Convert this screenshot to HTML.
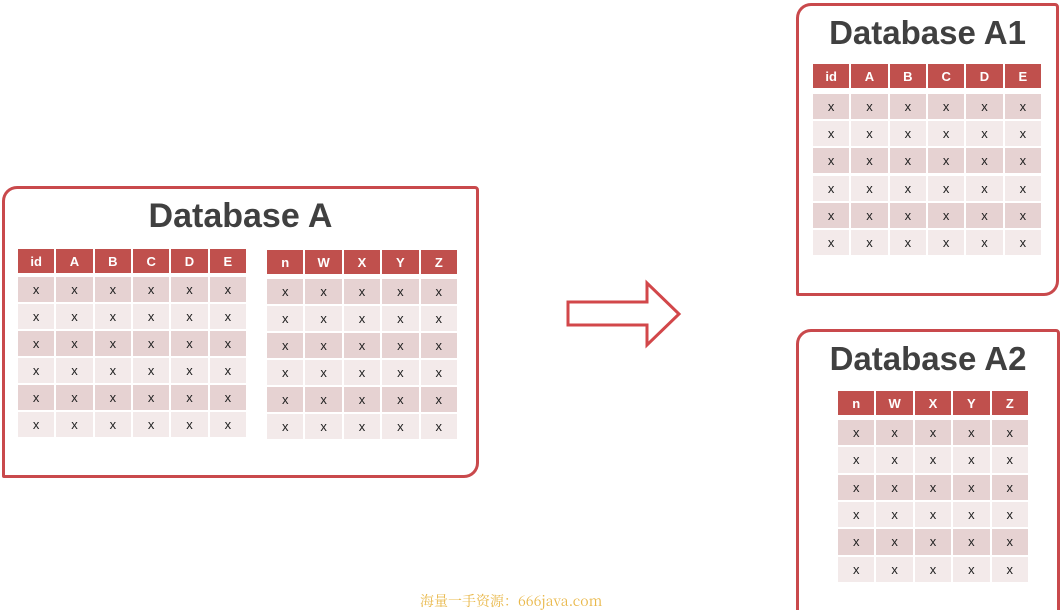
<!DOCTYPE html>
<html><head><meta charset="utf-8">
<style>
html,body{margin:0;padding:0;background:#fff;width:1061px;height:610px;overflow:hidden;position:relative;font-family:"Liberation Sans",sans-serif}
.box{position:absolute;border:3px solid #c9494c;box-sizing:border-box;background:#fff}
.title{position:absolute;font-weight:bold;color:#404040;text-align:center;font-family:"Liberation Sans",sans-serif}
.cell{position:absolute;display:flex;align-items:center;justify-content:center;font-size:13px;color:#222}
.hd{background:#c0504d;color:#fff;font-weight:bold;font-size:13px}
.dk{background:#e6d2d2}
.lt{background:#f3eaea}
.wm{position:absolute;left:420px;top:591px;font-family:"Noto Serif CJK SC","Liberation Serif",serif;font-size:14px;color:#e9b84a}
</style></head>
<body>
<div class="box" style="left:2px;top:186px;width:477px;height:292px;border-radius:15px 4px 15px 2px"></div>
<div class="title" style="left:2px;top:197px;width:477px;font-size:34px">Database A</div>
<div class="box" style="left:796px;top:3px;width:263px;height:293px;border-radius:15px 4px 15px 2px"></div>
<div class="title" style="left:796px;top:14px;width:263px;font-size:33px">Database A1</div>
<div class="box" style="left:796px;top:329px;width:264px;height:300px;border-radius:15px 4px 0 0"></div>
<div class="title" style="left:796px;top:340px;width:264px;font-size:33px">Database A2</div>
<svg style="position:absolute;left:0;top:0" width="1061" height="610">
<polygon points="568,302 647,302 647,283 679,314 647,345 647,325 568,325" fill="#fff" stroke="#d2474a" stroke-width="3"/>
</svg>
<div class="wm">海量一手资源：666java.com</div>
<script>
const cols1 = ['id','A','B','C','D','E'];
const cols2 = ['n','W','X','Y','Z'];
function build(name, x, y, w, hh, cols, r0, rEnd){
  const cw = w/cols.length;
  const rh = (rEnd - r0)/6;
  cols.forEach((c,i)=>{
    const d=document.createElement('div');
    d.className='cell hd';
    
    
    d.style.cssText=`left:${x+i*cw}px;top:${y}px;width:${cw-2}px;height:${hh}px`;
    d.textContent=c;
    document.body.appendChild(d);
    for(let r=0;r<6;r++){
      const e=document.createElement('div');
      e.className='cell '+(r%2?'lt':'dk');
      
      
      e.style.cssText=`left:${x+i*cw}px;top:${r0+r*rh}px;width:${cw-2}px;height:${rh-2}px`;
      e.textContent='x';
      document.body.appendChild(e);
    }
  });
}
build('a-left',18,249,230,24,cols1,277,439);
build('a-right',267,250,192,24,cols2,279,441);
build('a1',813,64,230,24,cols1,94,257);
build('a2',838,391,192,24,cols2,420,584);
</script>
</body></html>
